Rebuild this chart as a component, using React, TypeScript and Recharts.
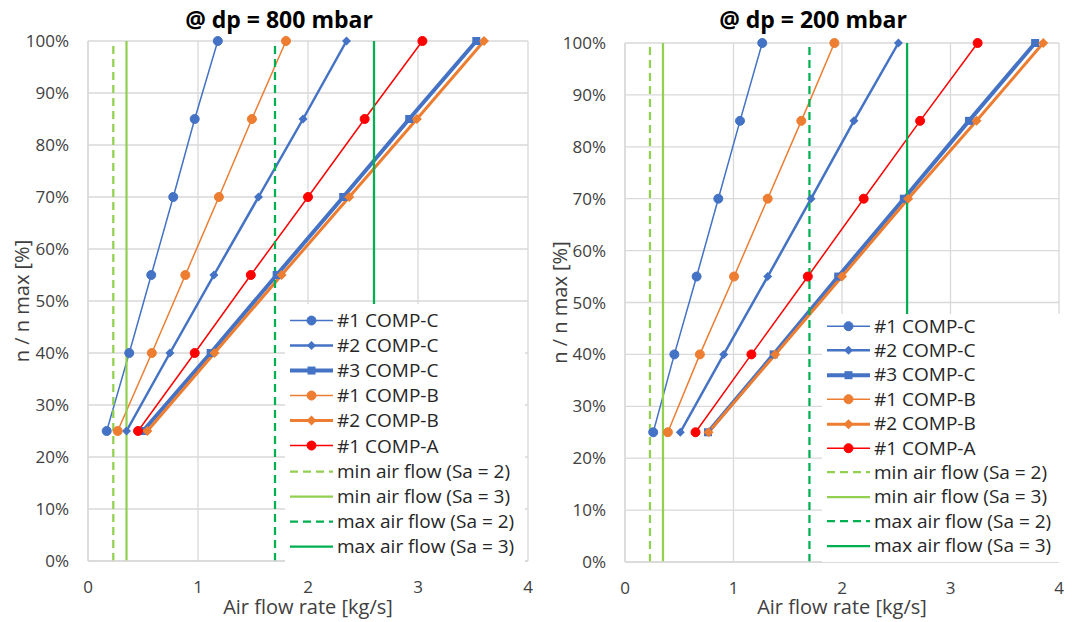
import { LineChart, Line, XAxis, YAxis, CartesianGrid, Legend, Label } from "recharts"

// speed levels n / n max [%]
const levels = [25, 40, 55, 70, 85, 100]
const seriesNames = ["#1 COMP-C", "#2 COMP-C", "#3 COMP-C", "#1 COMP-B", "#2 COMP-B", "#1 COMP-A"]

// air flow [kg/s] per level, dp = 800 mbar
const c1At800 = [0.17, 0.375, 0.575, 0.775, 0.97, 1.18]
const c2At800 = [0.35, 0.745, 1.145, 1.55, 1.955, 2.35]
const c3At800 = [0.5, 1.115, 1.715, 2.32, 2.92, 3.53]
const b1At800 = [0.27, 0.58, 0.885, 1.19, 1.49, 1.8]
const b2At800 = [0.54, 1.15, 1.76, 2.375, 2.99, 3.6]
const a1At800 = [0.455, 0.97, 1.48, 2.0, 2.515, 3.04]

// air flow [kg/s] per level, dp = 200 mbar
const c1At200 = [0.26, 0.455, 0.66, 0.86, 1.06, 1.265]
const c2At200 = [0.51, 0.91, 1.315, 1.715, 2.11, 2.52]
const c3At200 = [0.765, 1.37, 1.965, 2.57, 3.17, 3.78]
const b1At200 = [0.395, 0.69, 1.005, 1.315, 1.625, 1.93]
const b2At200 = [0.77, 1.385, 2.0, 2.61, 3.24, 3.855]
const a1At200 = [0.65, 1.165, 1.685, 2.2, 2.72, 3.25]

// limits
const limitNames = ["min air flow (Sa = 2)", "min air flow (Sa = 3)", "max air flow (Sa = 2)", "max air flow (Sa = 3)"]
const limitFlows = [0.23, 0.35, 1.7, 2.6]
const limitSpan = [0, 100]

const xTicks = [0, 1, 2, 3, 4]
const yTicks = [0, 10, 20, 30, 40, 50, 60, 70, 80, 90, 100]

const seriesStyle = [
  { color: "#4472C4", width: 1.5, shape: "circle", size: 4.5 },
  { color: "#4472C4", width: 2.5, shape: "diamond", size: 4.5 },
  { color: "#4472C4", width: 4, shape: "square", size: 4 },
  { color: "#ED7D31", width: 1.5, shape: "circle", size: 4.5 },
  { color: "#ED7D31", width: 3, shape: "diamond", size: 5 },
  { color: "#FF0000", width: 1.5, shape: "circle", size: 4.5 },
]
const limitStyle = [
  { color: "#92D050", dash: "8 5" },
  { color: "#92D050", dash: undefined },
  { color: "#00B050", dash: "8 5" },
  { color: "#00B050", dash: undefined },
]

const FONT = "'Open Sans', sans-serif"
const TEXT = "#404040"

function Marker({ cx, cy, shape, size, color }: any) {
  if (cx == null || cy == null) return null
  if (shape === "circle") return <circle cx={cx} cy={cy} r={size} fill={color} stroke={color} />
  if (shape === "square")
    return <rect x={cx - size} y={cy - size} width={size * 2} height={size * 2} fill={color} />
  return (
    <polygon
      points={`${cx},${cy - size} ${cx + size},${cy} ${cx},${cy + size} ${cx - size},${cy}`}
      fill={color}
    />
  )
}

function LegendBox({ rowH, padTop, padLeft }: any) {
  const rows = [
    ...seriesNames.map((name, i) => ({ name, ...seriesStyle[i], dash: undefined as string | undefined })),
    ...limitNames.map((name, i) => ({ name, ...limitStyle[i], width: 2.25, shape: "none", size: 0 })),
  ]
  return (
    <div style={{ background: "#fff", paddingTop: padTop, paddingLeft: padLeft, paddingBottom: 4, fontFamily: FONT }}>
      {rows.map((r) => (
        <div key={r.name} style={{ display: "flex", alignItems: "center", height: rowH }}>
          <svg width={43} height={rowH}>
            <line x1={0} x2={43} y1={rowH / 2} y2={rowH / 2} stroke={r.color} strokeWidth={r.width} strokeDasharray={r.dash} />
            {r.shape !== "none" && <Marker cx={21.5} cy={rowH / 2} shape={r.shape} size={r.size} color={r.color} />}
          </svg>
          <span style={{ marginLeft: 4, fontSize: 19, color: "#262626", whiteSpace: "nowrap", lineHeight: 1 }}>{r.name}</span>
        </div>
      ))}
    </div>
  )
}

function Panel({ title, flows, left, width, plotTop, plotRight, yW, axisH, titleX, yLabelX, legend }: any) {
  const series = flows.map((arr: number[], i: number) => ({
    name: seriesNames[i],
    data: levels.map((y, j) => ({ x: arr[j], y })),
  }))
  const limits = limitFlows.map((x, i) => ({
    name: limitNames[i],
    data: limitSpan.map((y) => ({ x, y })),
  }))
  const tick = { fontSize: 17, fill: TEXT, fontFamily: FONT }
  return (
    <div style={{ position: "absolute", left, top: 0, width, height: 622 }}>
      <div
        style={{
          position: "absolute", top: 8, left: titleX - 200, width: 400, textAlign: "center",
          fontFamily: FONT, fontWeight: 700, fontSize: 23, lineHeight: "22px", color: "#000",
        }}
      >
        {title}
      </div>
      <LineChart width={width} height={622} margin={{ top: plotTop, right: plotRight, bottom: 0, left: 0 }}>
        <CartesianGrid stroke="#d9d9d9" strokeWidth={1.3} />
        <XAxis
          type="number" dataKey="x" domain={[0, 4]} ticks={xTicks} height={axisH}
          axisLine={{ stroke: "#d9d9d9", strokeWidth: 1.3 }} tickLine={false} tickMargin={14} tick={tick}
        >
          <Label value="Air flow rate [kg/s]" position="insideBottom" offset={8}
            style={{ fontSize: 20, fill: TEXT, fontFamily: FONT }} />
        </XAxis>
        <YAxis
          type="number" dataKey="y" domain={[0, 100]} ticks={yTicks} width={yW}
          tickFormatter={(v: number) => `${v}%`}
          axisLine={{ stroke: "#d9d9d9", strokeWidth: 1.3 }} tickLine={false} tickMargin={13} tick={tick}
        >
          <Label value="n / n max [%]" angle={-90} position="insideLeft" offset={yLabelX}
            style={{ fontSize: 20, fill: TEXT, fontFamily: FONT, textAnchor: "middle" }} />
        </YAxis>
        {series.map((s: any, i: number) => {
          const st = seriesStyle[i]
          return (
            <Line
              key={s.name} name={s.name} data={s.data} dataKey="y" type="linear"
              stroke={st.color} strokeWidth={st.width} isAnimationActive={false}
              dot={(p: any) => <Marker key={`${s.name}-${p.index}`} cx={p.cx} cy={p.cy} shape={st.shape} size={st.size} color={st.color} />}
              activeDot={false}
            />
          )
        })}
        {limits.map((s: any, i: number) => (
          <Line
            key={s.name} name={s.name} data={s.data} dataKey="y" type="linear"
            stroke={limitStyle[i].color} strokeWidth={2.25} strokeDasharray={limitStyle[i].dash}
            dot={false} activeDot={false} isAnimationActive={false}
          />
        ))}
        <Legend
          layout="vertical" align="center" verticalAlign="middle"
          wrapperStyle={{ left: legend.left, top: legend.top, width: 240 }}
          content={() => <LegendBox rowH={legend.rowH} padTop={legend.padTop} padLeft={5} />}
        />
      </LineChart>
    </div>
  )
}

export default function App() {
  return (
    <div style={{ position: "absolute", left: 0, top: 0, width: 1078, height: 622, background: "#fff" }}>
      <Panel
        title="@ dp = 800 mbar"
        flows={[c1At800, c2At800, c3At800, b1At800, b2At800, a1At800]}
        left={0} width={540} plotTop={41} plotRight={12} yW={88} axisH={61}
        titleX={279} yLabelX={22}
        legend={{ left: 285, top: 304, rowH: 25.1, padTop: 4 }}
      />
      <Panel
        title="@ dp = 200 mbar"
        flows={[c1At200, c2At200, c3At200, b1At200, b2At200, a1At200]}
        left={540} width={538} plotTop={43} plotRight={19} yW={85} axisH={60}
        titleX={273} yLabelX={20}
        legend={{ left: 282, top: 314, rowH: 24.4, padTop: 0 }}
      />
    </div>
  )
}
